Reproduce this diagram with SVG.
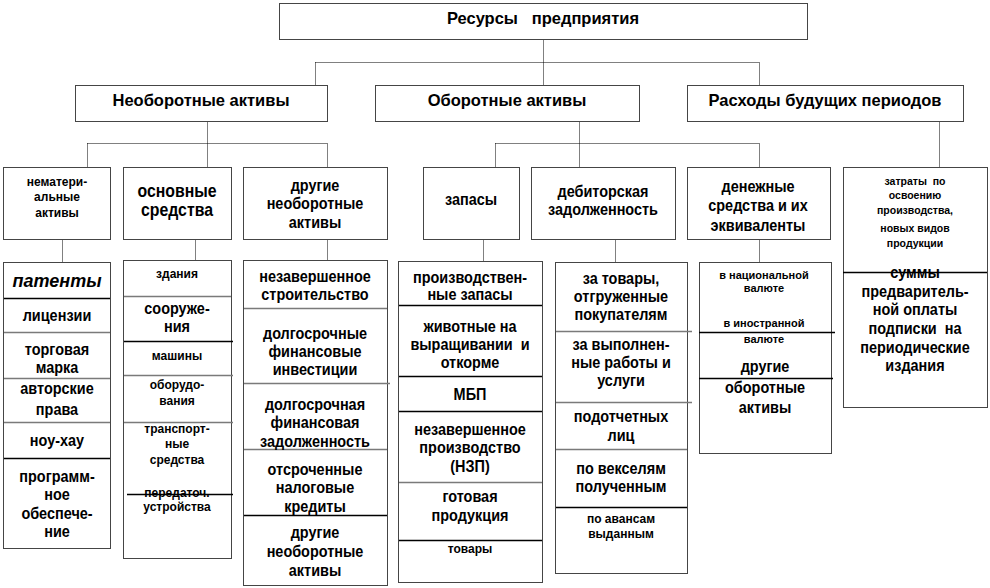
<svg xmlns="http://www.w3.org/2000/svg" width="990" height="588" viewBox="0 0 990 588">
<style>
.box{fill:#fff;stroke:#8a8a8a;stroke-width:1}
.dot{fill:none;stroke:#000;stroke-width:1;stroke-dasharray:1 1}
.con{fill:none;stroke:#000;stroke-width:1;stroke-dasharray:1 1}
.dk{stroke:#000;stroke-width:1.3;fill:none}
.gy{stroke:#7a7a7a;stroke-width:1.6;fill:none}
text{font-family:"Liberation Sans",Arial,sans-serif;font-weight:bold;fill:#000;text-anchor:middle}
.h{font-size:16.5px;white-space:pre}
.m{font-size:17px}
.l{font-size:18px}
.s{font-size:12px}
.xs{font-size:10.5px}
.it{font-size:18px;font-style:italic}
</style>
<rect width="990" height="588" fill="#fff"/>

<g id="connectors">
<path class="con" d="M543.5 39.5V85.5M315.5 62.5H759.5M315.5 62.5V85.5M759.5 62.5V85.5M207.5 121.5V143.5M87.5 143.5H327.5M87.5 143.5V167.5M207.5 143.5V167.5M327.5 143.5V167.5M579.5 121.5V143.5M495.5 143.5H759.5M495.5 143.5V167.5M579.5 143.5V167.5M759.5 143.5V167.5M939.5 121.5V167.5M62.5 239.5V262.5M195.5 239.5V260.5M327.5 239.5V260.5M483.5 239.5V261.5M615.5 239.5V262.5M759.5 239.5V262.5"/>
</g>

<g id="n-resources">
<rect class="box" x="279.5" y="3.5" width="528" height="36"/><rect class="dot" x="279.5" y="3.5" width="528" height="36"/>
<text class="h" x="543" y="24">Ресурсы   предприятия</text>
</g>

<g id="n-noncurrent">
<rect class="box" x="75.5" y="85.5" width="252" height="36"/><rect class="dot" x="75.5" y="85.5" width="252" height="36"/>
<text class="h" x="201" y="106">Необоротные активы</text>
</g>
<g id="n-current">
<rect class="box" x="375.5" y="85.5" width="264" height="36"/><rect class="dot" x="375.5" y="85.5" width="264" height="36"/>
<text class="h" x="507" y="106">Оборотные активы</text>
</g>
<g id="n-deferred">
<rect class="box" x="687.5" y="85.5" width="276" height="36"/><rect class="dot" x="687.5" y="85.5" width="276" height="36"/>
<text class="h" x="825" y="106">Расходы будущих периодов</text>
</g>

<g id="n-intangible">
<rect class="box" x="3.5" y="167.5" width="107" height="72"/><rect class="dot" x="3.5" y="167.5" width="107" height="72"/>
<text class="s"><tspan x="57" y="186">нематери-</tspan><tspan x="57" y="201">альные</tspan><tspan x="57" y="217">активы</tspan></text>
</g>
<g id="n-fixed">
<rect class="box" x="123.5" y="167.5" width="108" height="72"/><rect class="dot" x="123.5" y="167.5" width="108" height="72"/>
<text class="l" transform="translate(177 0) scale(0.88 1)"><tspan x="0" y="197">основные</tspan><tspan x="0" y="216">средства</tspan></text>
</g>
<g id="n-other-noncurrent">
<rect class="box" x="243.5" y="167.5" width="144" height="72"/><rect class="dot" x="243.5" y="167.5" width="144" height="72"/>
<text class="m" transform="translate(315 0) scale(0.85 1)"><tspan x="0" y="191">другие</tspan><tspan x="0" y="209">необоротные</tspan><tspan x="0" y="228">активы</tspan></text>
</g>
<g id="n-inventory">
<rect class="box" x="423.5" y="167.5" width="96" height="72"/><rect class="dot" x="423.5" y="167.5" width="96" height="72"/>
<text class="m" transform="translate(471 0) scale(0.85 1)"><tspan x="0" y="205">запасы</tspan></text>
</g>
<g id="n-receivables">
<rect class="box" x="531.5" y="167.5" width="144" height="72"/><rect class="dot" x="531.5" y="167.5" width="144" height="72"/>
<text class="m" transform="translate(603 0) scale(0.85 1)"><tspan x="0" y="197">дебиторская</tspan><tspan x="0" y="215">задолженность</tspan></text>
</g>
<g id="n-cash">
<rect class="box" x="687.5" y="167.5" width="143" height="72"/><rect class="dot" x="687.5" y="167.5" width="143" height="72"/>
<text class="m" transform="translate(758 0) scale(0.85 1)"><tspan x="0" y="192">денежные</tspan><tspan x="0" y="211">средства и их</tspan><tspan x="0" y="231">эквиваленты</tspan></text>
</g>
<g id="n-deferred-items">
<rect class="box" x="843.5" y="167.5" width="144" height="240"/><rect class="dot" x="843.5" y="167.5" width="144" height="240"/>
<text class="xs"><tspan x="915" y="185" style="white-space:pre">затраты  по</tspan><tspan x="915" y="199">освоению</tspan><tspan x="915" y="214">производства,</tspan><tspan x="915" y="232">новых видов</tspan><tspan x="915" y="247">продукции</tspan></text>
<path class="dk" d="M843 272.5H987"/>
<text class="m" transform="translate(915 0) scale(0.85 1)"><tspan x="0" y="278">суммы</tspan><tspan x="0" y="297">предваритель-</tspan><tspan x="0" y="315">ной оплаты</tspan><tspan x="0" y="334" style="white-space:pre">подписки  на</tspan><tspan x="0" y="353">периодические</tspan><tspan x="0" y="371">издания</tspan></text>
</g>

<g id="n-intangible-list">
<rect class="box" x="3.5" y="262.5" width="107" height="286"/><rect class="dot" x="3.5" y="262.5" width="107" height="286"/>
<path class="dk" d="M4 298.5H110M4 458.5H110"/>
<path class="gy" d="M4 332.5H110M4 378.5H110M4 422.5H110"/>
<text class="it" x="57" y="287">патенты</text>
<text class="m" transform="translate(57 0) scale(0.85 1)"><tspan x="0" y="321">лицензии</tspan><tspan x="0" y="355">торговая</tspan><tspan x="0" y="373">марка</tspan><tspan x="0" y="394">авторские</tspan><tspan x="0" y="415">права</tspan><tspan x="0" y="446">ноу-хау</tspan><tspan x="0" y="482">программ-</tspan><tspan x="0" y="500">ное</tspan><tspan x="0" y="519">обеспече-</tspan><tspan x="0" y="537">ние</tspan></text>
</g>

<g id="n-fixed-list">
<rect class="box" x="123.5" y="260.5" width="108" height="298"/><rect class="dot" x="123.5" y="260.5" width="108" height="298"/>
<path class="gy" d="M124 296.5H231M124 375.5H233M124 422.5H233"/>
<path class="dk" d="M124 341.5H233M127 494.5H233"/>
<text class="s"><tspan x="177" y="278">здания</tspan><tspan x="177" y="360">машины</tspan><tspan x="177" y="389">оборудо-</tspan><tspan x="177" y="405">вания</tspan><tspan x="177" y="433">транспорт-</tspan><tspan x="177" y="448">ные</tspan><tspan x="177" y="464">средства</tspan><tspan x="177" y="497">передаточ.</tspan><tspan x="177" y="511">устройства</tspan></text>
<text class="m" transform="translate(177 0) scale(0.85 1)"><tspan x="0" y="314">сооруже-</tspan><tspan x="0" y="332">ния</tspan></text>
</g>

<g id="n-other-noncurrent-list">
<rect class="box" x="243.5" y="260.5" width="144" height="325"/><rect class="dot" x="243.5" y="260.5" width="144" height="325"/>
<path class="gy" d="M244 308.5H387M244 383.5H390M244 449.5H387"/>
<path class="dk" d="M244 515.5H387"/>
<text class="m" transform="translate(315 0) scale(0.85 1)"><tspan x="0" y="282">незавершенное</tspan><tspan x="0" y="300">строительство</tspan><tspan x="0" y="339">долгосрочные</tspan><tspan x="0" y="357">финансовые</tspan><tspan x="0" y="375">инвестиции</tspan><tspan x="0" y="410">долгосрочная</tspan><tspan x="0" y="428">финансовая</tspan><tspan x="0" y="447">задолженность</tspan><tspan x="0" y="475">отсроченные</tspan><tspan x="0" y="493">налоговые</tspan><tspan x="0" y="512">кредиты</tspan><tspan x="0" y="538">другие</tspan><tspan x="0" y="557">необоротные</tspan><tspan x="0" y="576">активы</tspan></text>
</g>

<g id="n-inventory-list">
<rect class="box" x="398.5" y="261.5" width="144" height="321"/><rect class="dot" x="398.5" y="261.5" width="144" height="321"/>
<path class="dk" d="M399 305.5H542M399 376.5H542M399 411.5H542M399 540.5H542"/>
<path class="gy" d="M399 482.5H542"/>
<text class="m" transform="translate(470 0) scale(0.85 1)"><tspan x="0" y="283">производствен-</tspan><tspan x="0" y="300">ные запасы</tspan><tspan x="0" y="332">животные на</tspan><tspan x="0" y="350" style="white-space:pre">выращивании  и</tspan><tspan x="0" y="368">откорме</tspan><tspan x="0" y="400">МБП</tspan><tspan x="0" y="435">незавершенное</tspan><tspan x="0" y="453">производство</tspan><tspan x="0" y="472">(НЗП)</tspan><tspan x="0" y="502">готовая</tspan><tspan x="0" y="521">продукция</tspan></text>
<text class="s" x="470" y="553">товары</text>
</g>

<g id="n-receivables-list">
<rect class="box" x="555.5" y="262.5" width="132" height="311"/><rect class="dot" x="555.5" y="262.5" width="132" height="311"/>
<path class="gy" d="M556 331.5H692M556 402.5H692M556 449.5H687"/>
<path class="dk" d="M556 507.5H687"/>
<text class="m" transform="translate(621 0) scale(0.85 1)"><tspan x="0" y="284">за товары,</tspan><tspan x="0" y="302">отгруженные</tspan><tspan x="0" y="320">покупателям</tspan><tspan x="0" y="350">за выполнен-</tspan><tspan x="0" y="368">ные работы и</tspan><tspan x="0" y="386">услуги</tspan><tspan x="0" y="422">подотчетных</tspan><tspan x="0" y="441">лиц</tspan><tspan x="0" y="474">по векселям</tspan><tspan x="0" y="492">полученным</tspan></text>
<text class="s"><tspan x="621" y="523">по авансам</tspan><tspan x="621" y="538">выданным</tspan></text>
</g>

<g id="n-cash-list">
<rect class="box" x="699.5" y="262.5" width="132" height="191"/><rect class="dot" x="699.5" y="262.5" width="132" height="191"/>
<path class="dk" d="M699 332.5H835M699 378.5H833"/>
<text class="s" style="font-size:11px"><tspan x="764" y="279">в национальной</tspan><tspan x="764" y="292">валюте</tspan><tspan x="764" y="327">в иностранной</tspan><tspan x="764" y="343">валюте</tspan></text>
<text class="m" transform="translate(765 0) scale(0.85 1)"><tspan x="0" y="372">другие</tspan><tspan x="0" y="393">оборотные</tspan><tspan x="0" y="413">активы</tspan></text>
</g>
</svg>
